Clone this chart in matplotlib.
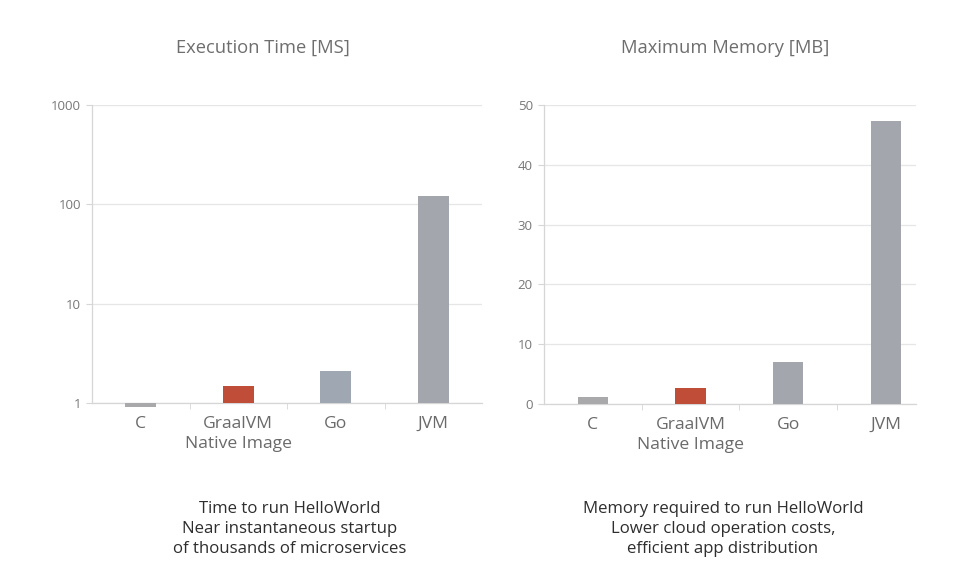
import matplotlib
matplotlib.use("Agg")
import matplotlib.pyplot as plt
import numpy as np

plt.rcParams['font.family'] = ['Open Sans', 'DejaVu Sans']

categories = ["C", "GraalVM\nNative Image", "Go", "JVM"]
exec_time_ms = [0.91, 1.49, 2.1, 121]
max_memory_mb = [1.1, 2.7, 7.1, 47.3]
bar_colors = ["#a9a9ab", "#c04d37", "#9fa8b2", "#a4a6ae"]

left_title = "Execution Time [MS]"
right_title = "Maximum Memory [MB]"
left_caption = "Time to run HelloWorld\nNear instantaneous startup\nof thousands of microservices"
right_caption = "Memory required to run HelloWorld\nLower cloud operation costs,\nefficient app distribution"
log_ticks = [1, 10, 100, 1000]
lin_ticks = [0, 10, 20, 30, 40, 50]

W, H = 958, 576
fig = plt.figure(figsize=(W / 100, H / 100), dpi=100)

def axes_px(x0, x1, ytop, ybot):
    return fig.add_axes([x0 / W, 1 - ybot / H, (x1 - x0) / W, (ybot - ytop) / H])

grid_c = "#e6e6e6"
spine_c = "#d6d6d6"
tick_c = "#777777"
lab_c = "#6a6a6a"

def style(ax, ncat, xr):
    x = np.arange(ncat)
    ax.set_xlim(-0.5, xr)
    ax.set_xticks(x)
    ax.set_xticklabels(categories, fontsize=12.6, color=lab_c, linespacing=1.32)
    ax.set_xticks(np.arange(ncat - 1) + 0.5, minor=True)
    ax.tick_params(axis='x', which='major', length=0, pad=9.5)
    ax.tick_params(axis='x', which='minor', length=4, color=spine_c, direction='out')
    ax.tick_params(axis='y', length=4, color=spine_c, labelsize=9.5, labelcolor=tick_c, pad=4)
    ax.grid(axis='y', color=grid_c, linewidth=0.9)
    ax.set_axisbelow(True)
    for s in ['top', 'right']:
        ax.spines[s].set_visible(False)
    for s in ['left', 'bottom']:
        ax.spines[s].set_color(spine_c)
        ax.spines[s].set_linewidth(0.9)

x = np.arange(len(categories))

# Left: log scale
ax1 = axes_px(92, 482, 105, 403)
ax1.set_yscale('log')
ax1.set_ylim(1, 1000)
ax1.bar(x, [v - 1 for v in exec_time_ms], bottom=1, width=0.32,
        color=bar_colors, clip_on=False, zorder=3)
ax1.set_yticks(log_ticks)
ax1.set_yticklabels([str(t) for t in log_ticks])
ax1.minorticks_off()
style(ax1, len(categories), 3.5)

# Right: linear
ax2 = axes_px(544, 916, 105, 404)
ax2.set_ylim(0, 50)
ax2.bar(x, max_memory_mb, width=0.31,
        color=[bar_colors[0], bar_colors[1], bar_colors[3], bar_colors[3]], zorder=3)
ax2.set_yticks(lin_ticks)
style(ax2, len(categories), 3.31)

title_c = "#6e6e6e"
fig.text(263 / W, 1 - 48 / H, left_title, ha='center', va='center', fontsize=13.2, color=title_c)
fig.text(725 / W, 1 - 48 / H, right_title, ha='center', va='center', fontsize=13.2, color=title_c)

cap_c = "#2e2e2e"
fig.text(290 / W, 1 - 529 / H, left_caption, ha='center', va='center', fontsize=12.1,
         color=cap_c, linespacing=1.36)
fig.text(723 / W, 1 - 529 / H, right_caption, ha='center', va='center', fontsize=12.1,
         color=cap_c, linespacing=1.36)

fig.savefig("out.png", dpi=100)
